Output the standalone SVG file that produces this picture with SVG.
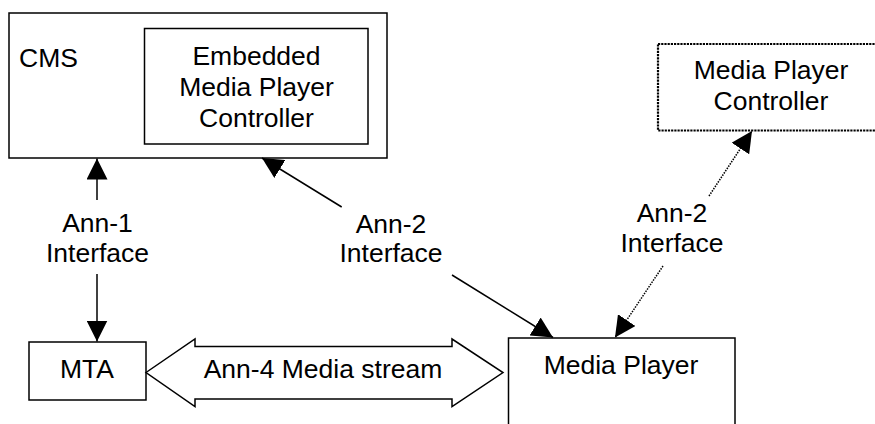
<svg xmlns="http://www.w3.org/2000/svg" width="875" height="424" viewBox="0 0 875 424">
<style>
.box{fill:#fff;stroke:#000;stroke-width:1.5}
.dotbox{fill:#fff;stroke:#000;stroke-width:2.2;stroke-dasharray:2.2 1}
.t{font-family:"Liberation Sans",Arial,sans-serif;font-size:26.5px;fill:#000}
.c{text-anchor:middle}
.ln{fill:none;stroke:#000;stroke-width:1.5}
.dl{fill:none;stroke:#000;stroke-width:1.5;stroke-dasharray:1.5 1.2}
</style>
<defs>
<marker id="ah" markerUnits="userSpaceOnUse" markerWidth="21" markerHeight="21" viewBox="0 0 20 20" refX="20" refY="10" orient="auto">
<path d="M0,0 L20,10 L0,20 z" fill="#000"/>
</marker>
</defs>
<rect width="875" height="424" fill="#fff"/>
<g id="cms">
<rect class="box" x="9" y="13" width="378" height="145"/>
<text class="t" x="19" y="66.7">CMS</text>
</g>
<g id="embedded">
<rect class="box" x="144.5" y="28.5" width="223.5" height="115.5"/>
<text class="t c" x="256.5" y="65">Embedded</text>
<text class="t c" x="256.5" y="96">Media Player</text>
<text class="t c" x="256.5" y="126.5">Controller</text>
</g>
<g id="mpc">
<rect class="dotbox" x="658" y="44" width="230" height="86.5"/>
<text class="t c" x="771" y="79">Media Player</text>
<text class="t c" x="771" y="110">Controller</text>
</g>
<g id="mta">
<rect class="box" x="29" y="342" width="117" height="58"/>
<text class="t c" x="87" y="377.7">MTA</text>
</g>
<g id="player">
<rect class="box" x="508.5" y="338" width="226.5" height="100"/>
<text class="t c" x="621" y="373.5">Media Player</text>
</g>
<g id="connectors">
<line class="ln" x1="97" y1="200" x2="97" y2="158.5" marker-end="url(#ah)"/>
<line class="ln" x1="97" y1="274" x2="97" y2="341.5" marker-end="url(#ah)"/>
<text class="t c" x="97.5" y="231.7">Ann-1</text>
<text class="t c" x="97.5" y="261.7">Interface</text>
<line class="ln" x1="341.7" y1="207" x2="262" y2="158" marker-end="url(#ah)"/>
<line class="ln" x1="452" y1="275" x2="553" y2="337.5" marker-end="url(#ah)"/>
<text class="t c" x="391" y="232.5">Ann-2</text>
<text class="t c" x="391" y="261.7">Interface</text>
<line class="dl" x1="709" y1="196" x2="752" y2="131" marker-end="url(#ah)"/>
<line class="dl" x1="663" y1="266" x2="615" y2="337.5" marker-end="url(#ah)"/>
<text class="t c" x="672" y="221.7">Ann-2</text>
<text class="t c" x="672" y="251.7">Interface</text>
<path class="box" d="M146,372.5 L195,339 L195,346.5 L452,346.5 L452,339 L503,372.5 L452,406.5 L452,399 L195,399 L195,406.5 Z"/>
<text class="t c" x="323" y="377.7">Ann-4 Media stream</text>
</g>
</svg>
